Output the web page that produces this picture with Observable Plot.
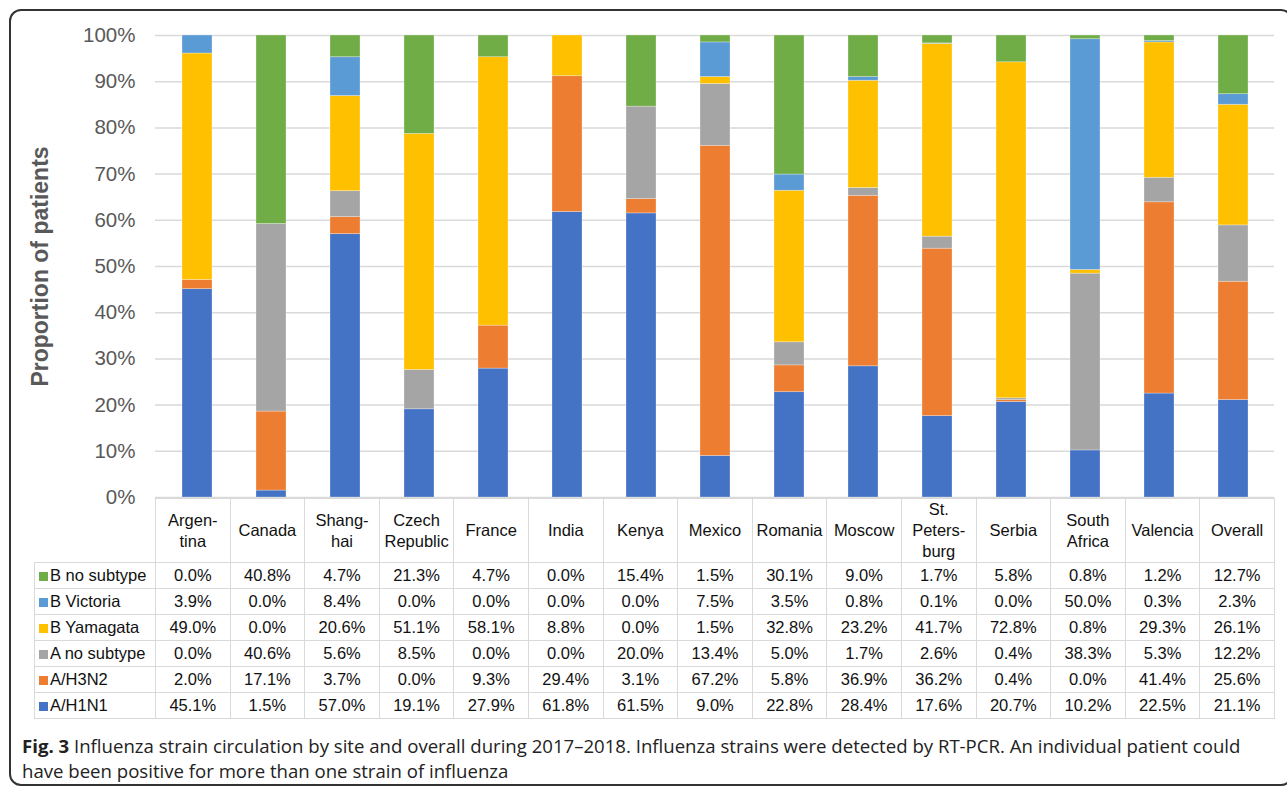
<!DOCTYPE html>
<html>
<head>
<meta charset="utf-8">
<script src="https://cdn.jsdelivr.net/npm/d3@7"></script>
<script src="https://cdn.jsdelivr.net/npm/@observablehq/plot@0.6"></script>
<style>
  body { margin: 0; background: #fff; }
  #wrap { position: relative; width: 1287px; height: 791px; overflow: hidden; font-family: "Liberation Sans", Arial, sans-serif; background: #fff; }
  #box { position: absolute; left: 9px; top: 9px; width: 1284px; height: 777px; border: 2px solid #333; border-radius: 12px; box-sizing: border-box; }
  #chart { position: absolute; left: 0; top: 0; }
  #tbl { position: absolute; left: 34px; top: 498px; border-collapse: collapse; table-layout: fixed; width: 1240px; font-size: 16.5px; color: #111; background: transparent; }
  #tbl td { border: 1.5px solid #d9d9d9; text-align: center; padding: 0; white-space: pre-line; line-height: 21px; background: #fff; }
  #tbl tr.head td { height: 62px; }
  #tbl tr.row td { height: 25px; line-height: 19px; }
  #tbl td.lab { text-align: left; padding-left: 4px; white-space: nowrap; }
  #tbl td.blank { border: none; background: transparent; }
  .sq { display: inline-block; width: 9px; height: 9px; margin-right: 2px; vertical-align: 0px; }
  #cap { position: absolute; left: 22px; top: 733px; width: 1252px; font-family: "Open Sans", sans-serif; font-size: 18.6px; line-height: 25px; color: #222; }
  #cap b { font-weight: 700; }
</style>
</head>
<body>
<div id="wrap">
  <div id="box"></div>
  <table id="tbl"></table>
  <div id="chart"></div>
  <div id="cap"><b>Fig. 3</b> Influenza strain circulation by site and overall during 2017–2018. Influenza strains were detected by RT-PCR. An individual patient could have been positive for more than one strain of influenza</div>
</div>
<script>
// ---- data ----
const sites = ["Argentina","Canada","Shanghai","Czech Republic","France","India","Kenya","Mexico","Romania","Moscow","St. Petersburg","Serbia","South Africa","Valencia","Overall"];
const siteLabels = ["Argen-\ntina","Canada","Shang-\nhai","Czech\nRepublic","France","India","Kenya","Mexico","Romania","Moscow","St.\nPeters-\nburg","Serbia","South\nAfrica","Valencia","Overall"];
const series = ["A/H1N1","A/H3N2","A no subtype","B Yamagata","B Victoria","B no subtype"];
const seriesColors = ["#4472C4","#ED7D31","#A5A5A5","#FFC000","#5B9BD5","#70AD47"];
const h1n1     = [45.1, 1.5, 57.0, 19.1, 27.9, 61.8, 61.5,  9.0, 22.8, 28.4, 17.6, 20.7, 10.2, 22.5, 21.1];
const h3n2     = [ 2.0,17.1,  3.7,  0.0,  9.3, 29.4,  3.1, 67.2,  5.8, 36.9, 36.2,  0.4,  0.0, 41.4, 25.6];
const aNoSub   = [ 0.0,40.6,  5.6,  8.5,  0.0,  0.0, 20.0, 13.4,  5.0,  1.7,  2.6,  0.4, 38.3,  5.3, 12.2];
const bYamagata= [49.0, 0.0, 20.6, 51.1, 58.1,  8.8,  0.0,  1.5, 32.8, 23.2, 41.7, 72.8,  0.8, 29.3, 26.1];
const bVictoria= [ 3.9, 0.0,  8.4,  0.0,  0.0,  0.0,  0.0,  7.5,  3.5,  0.8,  0.1,  0.0, 50.0,  0.3,  2.3];
const bNoSub   = [ 0.0,40.8,  4.7, 21.3,  4.7,  0.0, 15.4,  1.5, 30.1,  9.0,  1.7,  5.8,  0.8,  1.2, 12.7];
const yTicks = [0, 0.1, 0.2, 0.3, 0.4, 0.5, 0.6, 0.7, 0.8, 0.9, 1.0];
const tableOrder = ["B no subtype","B Victoria","B Yamagata","A no subtype","A/H3N2","A/H1N1"];

const valuesBySeries = {
  "A/H1N1": h1n1, "A/H3N2": h3n2, "A no subtype": aNoSub,
  "B Yamagata": bYamagata, "B Victoria": bVictoria, "B no subtype": bNoSub
};
const data = [];
series.forEach(s => sites.forEach((site, i) => data.push({site, series: s, value: valuesBySeries[s][i]})));

// ---- chart ----
const chart = Plot.plot({
  width: 1287,
  height: 509,
  marginTop: 35,
  marginBottom: 12,
  marginLeft: 155,
  marginRight: 13,
  style: {fontFamily: "'Liberation Sans', Arial, sans-serif", color: "#595959", background: "transparent"},
  x: {domain: sites, paddingInner: 0.6, paddingOuter: 0.3, axis: null},
  y: {domain: [0, 1], axis: null},
  color: {domain: series, range: seriesColors},
  marks: [
    Plot.gridY(yTicks, {stroke: "#d9d9d9", strokeOpacity: 1, strokeWidth: 1.5}),
    Plot.barY(data, Plot.stackY({x: "site", y: "value", fill: "series", order: series, offset: "normalize", stroke: "#fff", strokeOpacity: 0.35, strokeWidth: 0.8})),
    Plot.axisY(yTicks, {tickFormat: d => Math.round(d * 100) + "%", tickSize: 0, tickPadding: 20, fontSize: 20.5, label: null, fill: "#595959"}),
    Plot.text(["Proportion of patients"], {frameAnchor: "left", textAnchor: "middle", dx: -115, rotate: -90, fontSize: 23, fontWeight: "bold", fill: "#595959"})
  ]
});
chart.style.pointerEvents = "none";
document.getElementById("chart").appendChild(chart);

// ---- data table ----
const tbl = document.getElementById("tbl");
const cg = document.createElement("colgroup");
const c0 = document.createElement("col"); c0.style.width = "121px"; cg.appendChild(c0);
sites.forEach(() => { const c = document.createElement("col"); c.style.width = (1119 / 15) + "px"; cg.appendChild(c); });
tbl.appendChild(cg);
const head = document.createElement("tr"); head.className = "head";
const blank = document.createElement("td"); blank.className = "blank"; head.appendChild(blank);
siteLabels.forEach(l => { const td = document.createElement("td"); td.textContent = l; head.appendChild(td); });
tbl.appendChild(head);
tableOrder.forEach(s => {
  const tr = document.createElement("tr"); tr.className = "row";
  const lab = document.createElement("td"); lab.className = "lab";
  const sq = document.createElement("span"); sq.className = "sq"; sq.style.background = seriesColors[series.indexOf(s)];
  lab.appendChild(sq); lab.appendChild(document.createTextNode(s));
  tr.appendChild(lab);
  valuesBySeries[s].forEach(v => { const td = document.createElement("td"); td.textContent = v.toFixed(1) + "%"; tr.appendChild(td); });
  tbl.appendChild(tr);
});
</script>
</body>
</html>
